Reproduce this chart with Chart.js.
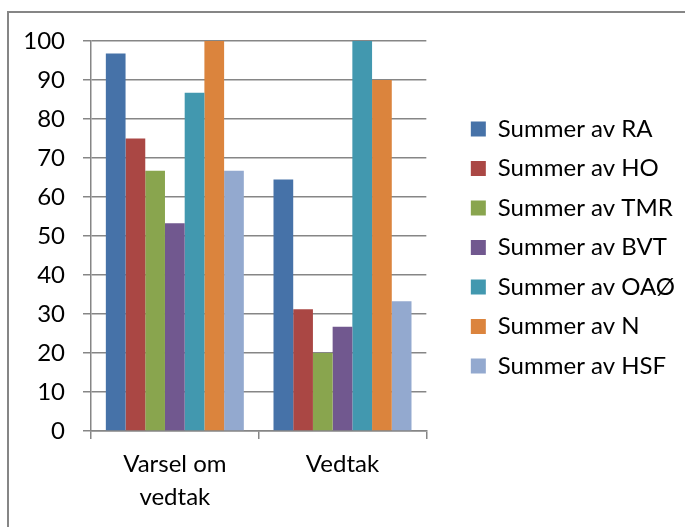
<!DOCTYPE html>
<html>
<head>
<meta charset="utf-8">
<script src="https://cdn.jsdelivr.net/npm/chart.js@4/dist/chart.umd.min.js"></script>
<style>
  html, body { margin: 0; padding: 0; background: #fff; overflow: hidden; }
  #ramme {
    position: absolute; left: 7px; top: 11px; width: 720px; height: 560px;
    border-top: 2px solid #868686; border-left: 2px solid #868686;
  }
  #graf { position: absolute; left: 0; top: 0; }
</style>
</head>
<body>
<div id="ramme"></div>
<canvas id="graf" width="685" height="527"></canvas>
<script>
const kategorier = [["Varsel om", "vedtak"], "Vedtak"];

const serieNavn = [
  "Summer av RA", "Summer av HO", "Summer av TMR", "Summer av BVT",
  "Summer av OAØ", "Summer av N", "Summer av HSF"
];

const RA  = [96.8, 64.5];
const HO  = [75.0, 31.2];
const TMR = [66.7, 20.0];
const BVT = [53.3, 26.7];
const OAO = [86.7, 100];
const N   = [100, 90.0];
const HSF = [66.7, 33.3];

const farger = ["#4672a8", "#aa4744", "#89a54e", "#71588f", "#4298af", "#db843d", "#93a9cf"];

const serier = [RA, HO, TMR, BVT, OAO, N, HSF];

const grå = "#868686";
const font = "Lato, 'Liberation Sans', sans-serif";
const str = 24;

function tegn() {
  const datasett = serier.map((verdier, i) => ({
    label: serieNavn[i],
    data: verdier,
    backgroundColor: farger[i],
    borderWidth: 0
  }));

  new Chart(document.getElementById("graf"), {
    type: "bar",
    data: { labels: kategorier, datasets: datasett },
    options: {
      responsive: false,
      animation: false,
      layout: { padding: { top: 41, left: 0, right: 0, bottom: 0 } },
      datasets: { bar: { categoryPercentage: 0.823, barPercentage: 1 } },
      plugins: {
        tooltip: { enabled: false },
        legend: {
          position: "right",
          align: "start",
          maxWidth: 300,
          // tom tittel skyver legenden ned til riktig høyde
          title: {
            display: true, text: " ",
            padding: { top: 0, bottom: 48 },
            font: { size: 10, lineHeight: 1.25 }
          },
          labels: {
            boxWidth: 15,
            boxHeight: 15,
            padding: 15.5,
            color: "#000",
            font: { family: font, size: str }
          }
        }
      },
      scales: {
        x: {
          grid: {
            display: true, drawOnChartArea: false, offset: true,
            tickLength: 8, color: grå, lineWidth: 1.5
          },
          border: { display: true, color: grå, width: 1.5 },
          ticks: {
            color: "#000", padding: 8, maxRotation: 0,
            font: { family: font, size: str, lineHeight: 1.4 }
          },
          afterFit: s => { s.height = 96; }
        },
        y: {
          min: 0, max: 100,
          grid: { color: grå, lineWidth: 1.5, tickLength: 8 },
          border: { display: true, color: grå, width: 1.5 },
          ticks: {
            stepSize: 10, color: "#000", padding: 18,
            font: { family: font, size: str }
          },
          afterFit: s => { s.width = 91; }
        },
        mellomrom: {
          position: "right",
          grid: { display: false },
          border: { display: false },
          ticks: { display: false },
          afterFit: s => { s.width = 29; }
        }
      }
    }
  });
}

document.fonts.load(str + "px Lato").then(tegn, tegn);
</script>
</body>
</html>
